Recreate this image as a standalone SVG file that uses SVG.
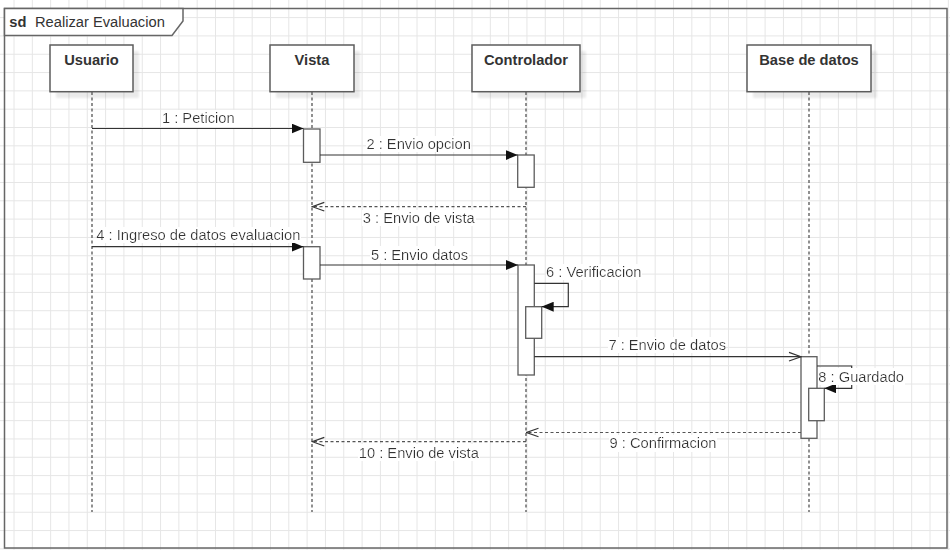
<svg xmlns="http://www.w3.org/2000/svg" width="950" height="550" viewBox="0 0 950 550">
  <style>
    .grid{stroke:#e6e6e6;stroke-width:1;fill:none}
    .frame{fill:none;stroke:#666;stroke-width:1.5}
    .hdr{fill:#fff;stroke:#666;stroke-width:1.5}
    .box{fill:#fff;stroke:#5c5c5c;stroke-width:1.5}
    .shadow{fill:#000;opacity:.08}
    .life{stroke:#555;stroke-width:1.3;stroke-dasharray:3 2.5;fill:none}
    .act{fill:#fff;stroke:#5c5c5c;stroke-width:1.3}
    .msg{stroke:#333;stroke-width:1.2;fill:none}
    .ret{stroke:#555;stroke-width:1.2;fill:none;stroke-dasharray:3 2.5}
    text{font-family:"Liberation Sans",Arial,Helvetica,sans-serif;font-size:14.7px;fill:#333}
    .name{font-weight:bold;text-anchor:middle}
    .lbl{text-anchor:middle;filter:url(#labelbg)}
    .lbls{text-anchor:start;filter:url(#labelbg)}
  </style>
  <defs>
    <filter id="labelbg" x="0" y="0" width="1" height="1">
      <feFlood flood-color="#ffffff"/>
      <feComposite in="SourceGraphic"/>
    </filter>
    <filter id="soft" x="-10%" y="-10%" width="120%" height="120%">
      <feGaussianBlur stdDeviation="1.2"/>
    </filter>
    <marker id="block" viewBox="0 0 12 10" refX="12" refY="5" markerWidth="12" markerHeight="10" markerUnits="userSpaceOnUse" orient="auto">
      <path d="M0,0 L12,5 L0,10 Z" fill="#111"/>
    </marker>
    <marker id="open" viewBox="-1 -1 14 11" refX="12" refY="4.3" markerWidth="14" markerHeight="11" markerUnits="userSpaceOnUse" orient="auto">
      <path d="M0,0 L12,4.3 L0,8.6" fill="none" stroke="#333" stroke-width="1.2"/>
    </marker>
  </defs>

  <!-- background and grid -->
  <rect width="950" height="550" fill="#fff"/>
  <path class="grid" d="M14 0V550M32.32 0V550M50.64 0V550M68.96 0V550M87.28 0V550M105.6 0V550M123.92 0V550M142.24 0V550M160.56 0V550M178.88 0V550M197.2 0V550M215.52 0V550M233.84 0V550M252.16 0V550M270.48 0V550M288.8 0V550M307.12 0V550M325.44 0V550M343.76 0V550M362.08 0V550M380.4 0V550M398.72 0V550M417.04 0V550M435.36 0V550M453.68 0V550M472 0V550M490.32 0V550M508.64 0V550M526.96 0V550M545.28 0V550M563.6 0V550M581.92 0V550M600.24 0V550M618.56 0V550M636.88 0V550M655.2 0V550M673.52 0V550M691.84 0V550M710.16 0V550M728.48 0V550M746.8 0V550M765.12 0V550M783.44 0V550M801.76 0V550M820.08 0V550M838.4 0V550M856.72 0V550M875.04 0V550M893.36 0V550M911.68 0V550M930 0V550M948.32 0V550
  M0 17.6H950M0 35.92H950M0 54.24H950M0 72.56H950M0 90.88H950M0 109.2H950M0 127.52H950M0 145.84H950M0 164.16H950M0 182.48H950M0 200.8H950M0 219.12H950M0 237.44H950M0 255.76H950M0 274.08H950M0 292.4H950M0 310.72H950M0 329.04H950M0 347.36H950M0 365.68H950M0 384H950M0 402.32H950M0 420.64H950M0 438.96H950M0 457.28H950M0 475.6H950M0 493.92H950M0 512.24H950M0 530.56H950M0 548.88H950"/>

  <!-- sequence frame -->
  <g id="frame">
    <rect class="frame" x="4.5" y="8.5" width="942.5" height="539.5"/>
    <path class="hdr" d="M4.5 8.5H183V21L172 35.5H4.5Z"/>
    <text x="9.3" y="26.7" font-weight="bold">sd</text>
    <text x="35" y="26.7">Realizar Evaluacion</text>
  </g>

  <!-- lifelines -->
  <g id="usuario">
    <rect class="shadow" x="56" y="51" width="83" height="47" filter="url(#soft)"/>
    <line class="life" x1="92" y1="92" x2="92" y2="512"/>
    <rect class="box" x="50" y="45" width="83" height="46.7"/>
    <text class="name" x="91.5" y="65">Usuario</text>
  </g>
  <g id="vista">
    <rect class="shadow" x="276" y="51" width="84" height="47" filter="url(#soft)"/>
    <line class="life" x1="312" y1="92" x2="312" y2="512"/>
    <rect class="box" x="270" y="45" width="84" height="46.7"/>
    <text class="name" x="312" y="65">Vista</text>
  </g>
  <g id="controlador">
    <rect class="shadow" x="478" y="51" width="108" height="47" filter="url(#soft)"/>
    <line class="life" x1="526" y1="92" x2="526" y2="512"/>
    <rect class="box" x="472" y="45" width="108" height="46.7"/>
    <text class="name" x="526" y="65">Controlador</text>
  </g>
  <g id="basededatos">
    <rect class="shadow" x="753" y="51" width="124" height="47" filter="url(#soft)"/>
    <line class="life" x1="809" y1="92" x2="809" y2="512"/>
    <rect class="box" x="747" y="45" width="124" height="46.7"/>
    <text class="name" x="809" y="65">Base de datos</text>
  </g>

  <!-- activation bars -->
  <g id="activations">
    <rect class="act" x="303.5" y="129" width="16.5" height="33.3"/>
    <rect class="act" x="517.7" y="155" width="16.5" height="32.3"/>
    <rect class="act" x="303.5" y="246.7" width="16.5" height="32.3"/>
    <rect class="act" x="518" y="265" width="16.3" height="110"/>
    <rect class="act" x="525.7" y="306.7" width="16" height="31.6"/>
    <rect class="act" x="801" y="356.7" width="16" height="81.6"/>
    <rect class="act" x="808.7" y="388.3" width="15.6" height="32.4"/>
  </g>

  <!-- messages -->
  <g id="connectors">
    <path class="msg" d="M92 128.5H303.5" marker-end="url(#block)"/>
    <path class="msg" d="M320 155H517.7" marker-end="url(#block)"/>
    <path class="ret" d="M526 206.7H312.3" marker-end="url(#open)"/>
    <path class="msg" d="M92 246.7H303.5" marker-end="url(#block)"/>
    <path class="msg" d="M320 265H518" marker-end="url(#block)"/>
    <path class="msg" d="M534.3 283.3H568.3V306.7H541.7" marker-end="url(#block)"/>
    <path class="msg" d="M534.3 356.7H801" marker-end="url(#open)"/>
    <path class="msg" d="M817 366H851.7V388.3H824.3" marker-end="url(#block)"/>
    <path class="ret" d="M801 432.5H526.5" marker-end="url(#open)"/>
    <path class="ret" d="M526 441.7H312.3" marker-end="url(#open)"/>

    <text class="lbl" x="198.3" y="123.3">1 : Peticion</text>
    <text class="lbl" x="418.7" y="149">2 : Envio opcion</text>
    <text class="lbl" x="418.8" y="223">3 : Envio de vista</text>
    <text class="lbl" x="198.4" y="240">4 : Ingreso de datos evaluacion</text>
    <text class="lbl" x="419.5" y="259.5">5 : Envio datos</text>
    <text class="lbls" x="546" y="277">6 : Verificacion</text>
    <text class="lbl" x="667.2" y="350">7 : Envio de datos</text>
    <text class="lbls" x="818.3" y="381.5">8 : Guardado</text>
    <text class="lbl" x="663" y="448.3">9 : Confirmacion</text>
    <text class="lbl" x="418.8" y="457.7">10 : Envio de vista</text>
  </g>
</svg>
